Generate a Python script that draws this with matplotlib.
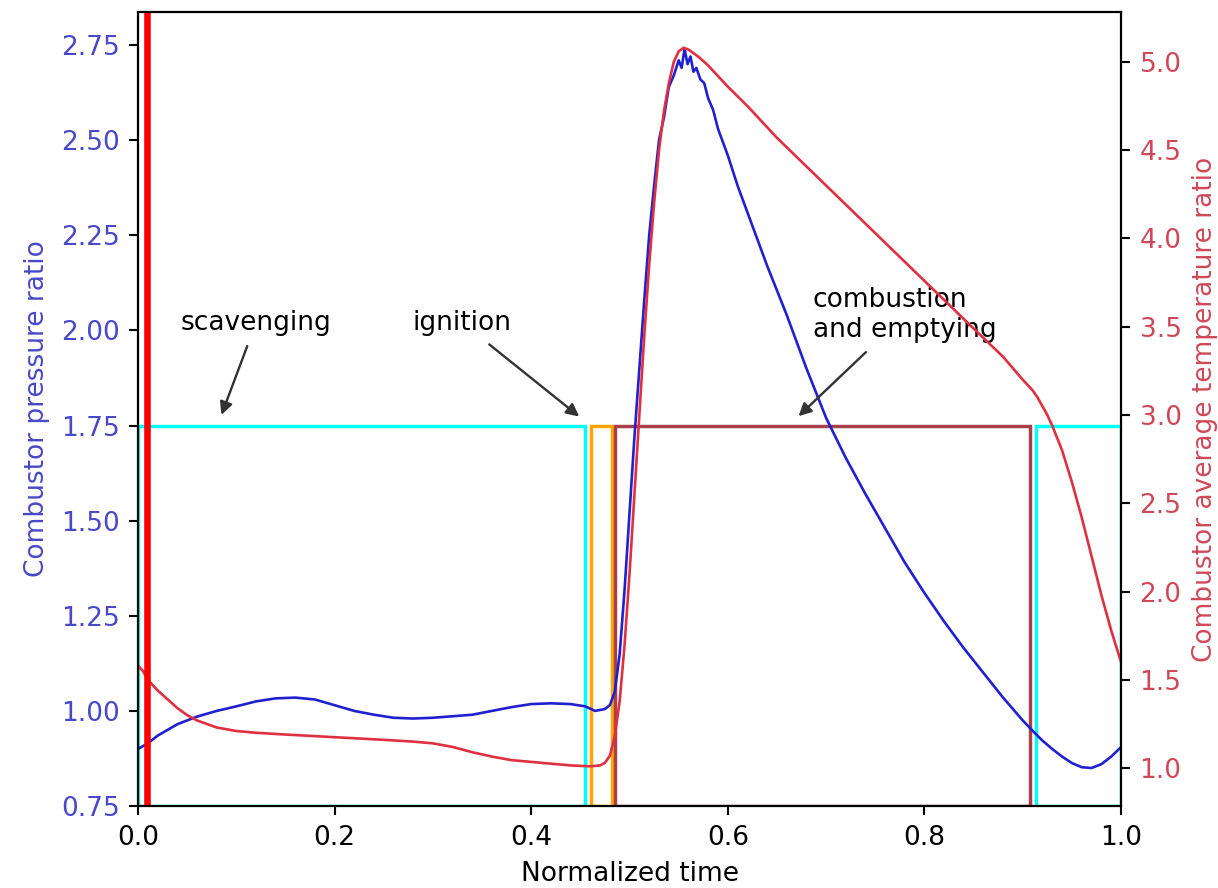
import matplotlib
matplotlib.use('Agg')
import matplotlib.pyplot as plt
from matplotlib.patches import Rectangle

# Combustor pressure ratio (left axis)
t_p = [0.0, 0.01, 0.02, 0.04, 0.06, 0.08, 0.10, 0.12, 0.14, 0.16, 0.18, 0.20,
       0.22, 0.24, 0.26, 0.28, 0.30, 0.32, 0.34, 0.36, 0.38, 0.40, 0.42, 0.44,
       0.455, 0.465, 0.475, 0.48, 0.485, 0.49, 0.495, 0.50, 0.505, 0.51, 0.515,
       0.52, 0.525, 0.53, 0.535, 0.54, 0.545, 0.55, 0.553, 0.556, 0.559, 0.562,
       0.565, 0.568, 0.572, 0.576, 0.58, 0.585, 0.59, 0.60, 0.61, 0.62, 0.63,
       0.64, 0.66, 0.68, 0.70, 0.72, 0.74, 0.76, 0.78, 0.80, 0.82, 0.84, 0.86,
       0.88, 0.89, 0.90, 0.91, 0.92, 0.93, 0.94, 0.95, 0.96, 0.97, 0.98, 0.99, 1.0]
pressure = [0.90, 0.915, 0.935, 0.965, 0.985, 1.0, 1.012, 1.025, 1.033, 1.035, 1.03, 1.015,
            1.0, 0.99, 0.982, 0.98, 0.982, 0.986, 0.99, 1.0, 1.01, 1.018, 1.02, 1.018,
            1.012, 1.0, 1.005, 1.015, 1.05, 1.15, 1.32, 1.52, 1.72, 1.9, 2.08,
            2.25, 2.38, 2.5, 2.56, 2.64, 2.67, 2.71, 2.69, 2.74, 2.70, 2.72,
            2.68, 2.69, 2.66, 2.65, 2.61, 2.58, 2.53, 2.46, 2.38, 2.31, 2.24,
            2.17, 2.04, 1.90, 1.77, 1.665, 1.57, 1.48, 1.39, 1.31, 1.235, 1.165, 1.10,
            1.035, 1.005, 0.975, 0.948, 0.922, 0.90, 0.88, 0.863, 0.852, 0.85, 0.86, 0.88, 0.905]

# Combustor average temperature ratio (right axis)
t_T = [0.0, 0.005, 0.01, 0.02, 0.03, 0.04, 0.05, 0.06, 0.08, 0.10, 0.12, 0.15,
       0.20, 0.25, 0.28, 0.30, 0.32, 0.34, 0.36, 0.38, 0.40, 0.42, 0.44, 0.46,
       0.47, 0.475, 0.48, 0.485, 0.49, 0.495, 0.50, 0.505, 0.51, 0.515, 0.52,
       0.525, 0.53, 0.535, 0.54, 0.545, 0.55, 0.555, 0.56, 0.57, 0.58, 0.60,
       0.62, 0.65, 0.70, 0.75, 0.80, 0.85, 0.88, 0.90, 0.91, 0.915, 0.92, 0.925,
       0.93, 0.94, 0.95, 0.96, 0.97, 0.98, 0.99, 1.0]
temperature = [1.58, 1.55, 1.50, 1.44, 1.39, 1.34, 1.30, 1.27, 1.23, 1.21, 1.20, 1.19,
               1.175, 1.16, 1.15, 1.14, 1.12, 1.09, 1.065, 1.045, 1.035, 1.025, 1.015, 1.01,
               1.015, 1.03, 1.07, 1.18, 1.38, 1.7, 2.1, 2.55, 3.0, 3.45, 3.85,
               4.2, 4.5, 4.72, 4.88, 5.0, 5.06, 5.08, 5.07, 5.03, 4.98, 4.86,
               4.75, 4.57, 4.3, 4.03, 3.76, 3.49, 3.33, 3.2, 3.14, 3.1, 3.05, 3.0,
               2.94, 2.8, 2.62, 2.42, 2.2, 1.98, 1.78, 1.6]

# Cycle phases: start, end, edge colour
phase_start = [0.0, 0.461, 0.485, 0.913]
phase_end = [0.455, 0.482, 0.907, 1.0]
phase_color = ['cyan', 'orange', '#a8404a', 'cyan']
phase_level = 1.75
cycle_start = 0.009

fig, ax1 = plt.subplots(figsize=(1218 / 190, 888 / 190), dpi=190)
fig.subplots_adjust(left=0.1133, right=0.9204, top=0.9865, bottom=0.0923)

for s, e, c in zip(phase_start, phase_end, phase_color):
    ax1.add_patch(Rectangle((s, 0.75), e - s, phase_level - 0.75,
                            fill=False, edgecolor=c, lw=1.3))

ax1.plot(t_p, pressure, color='#2020d0', lw=1.0)
ax1.set_xlim(0, 1)
ax1.set_ylim(0.75, 2.837)
ax1.set_yticks([0.75, 1.0, 1.25, 1.5, 1.75, 2.0, 2.25, 2.5, 2.75])
ax1.set_yticklabels(['0.75', '1.00', '1.25', '1.50', '1.75', '2.00',
                     '2.25', '2.50', '2.75'])
ax1.set_xlabel('Normalized time')
ax1.set_ylabel('Combustor pressure ratio', color='#4848c8')
ax1.tick_params(axis='y', labelcolor='#4848c8')

arrow = dict(arrowstyle='-|>', color='#333333', lw=0.9, mutation_scale=10)
ax1.annotate('scavenging', xy=(0.083, 1.765), xytext=(0.12, 2.02),
             ha='center', va='center', arrowprops=arrow)
ax1.annotate('ignition', xy=(0.453, 1.765), xytext=(0.33, 2.02),
             ha='center', va='center', arrowprops=arrow)
ax1.annotate('combustion\nand emptying', xy=(0.668, 1.765), xytext=(0.78, 2.04),
             ha='center', va='center', multialignment='left', arrowprops=arrow)

ax2 = ax1.twinx()
ax2.plot(t_T, temperature, color='#e03040', lw=1.0)
ax2.axvline(cycle_start, color='red', lw=2.5)
ax2.set_ylim(0.785, 5.283)
ax2.set_ylabel('Combustor average temperature ratio', color='#d04858')
ax2.tick_params(axis='y', labelcolor='#d04858')

fig.savefig('out.png', dpi=190)
